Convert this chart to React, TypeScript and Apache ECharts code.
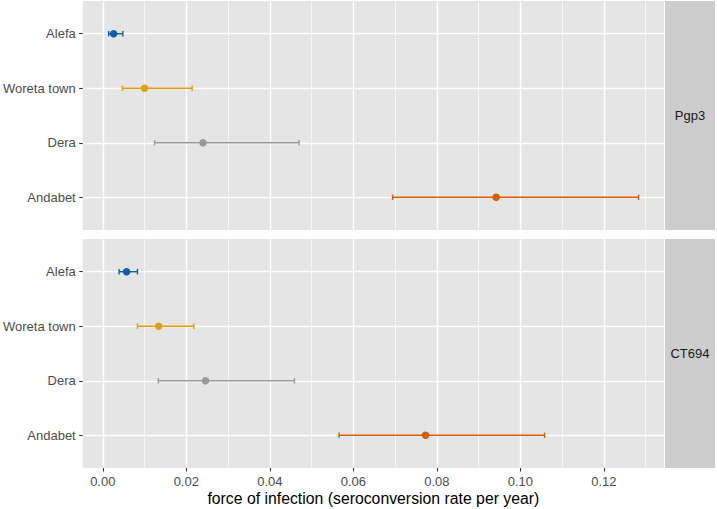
import React, { useEffect, useRef } from "react";
import * as echarts from "echarts";

const sites = ["Alefa", "Woreta town", "Dera", "Andabet"];
const antigens = ["Pgp3", "CT694"];
const pgp3Est = [0.0026, 0.01, 0.024, 0.0942];
const pgp3Lo = [0.0014, 0.0047, 0.0124, 0.0694];
const pgp3Hi = [0.0048, 0.0214, 0.047, 0.1283];
const ct694Est = [0.0057, 0.0134, 0.0246, 0.0773];
const ct694Lo = [0.0039, 0.0083, 0.0133, 0.0566];
const ct694Hi = [0.0083, 0.0218, 0.0459, 0.1058];
const xTitle = "force of infection (seroconversion rate per year)";

const siteColors = ["#0F5DAA", "#E69F00", "#999999", "#D55E00"];

const X_MIN = -0.0048;
const X_MAX = 0.1344;
const FONT = "Liberation Sans, Arial, Helvetica, sans-serif";

export default function App() {
  const ref = useRef<HTMLDivElement>(null);
  useEffect(() => {
    if (!ref.current) return;
    const chart = echarts.init(ref.current, null, { renderer: "svg" });
    const panels = [
      { est: pgp3Est, lo: pgp3Lo, hi: pgp3Hi },
      { est: ct694Est, lo: ct694Lo, hi: ct694Hi },
    ];
    const panelTop = [1, 239];
    const panelH = 229;
    const gridLeft = 80;
    const gridRight = 717 - 664;

    const grids = panelTop.map((t) => ({
      left: gridLeft,
      right: gridRight,
      top: t,
      height: panelH,
      show: true,
      backgroundColor: "#E5E5E5",
      borderWidth: 0,
    }));

    const xAxes = panelTop.map((_, i) => ({
      type: "value",
      gridIndex: i,
      position: "bottom",
      min: X_MIN,
      max: X_MAX,
      splitNumber: 7,
      axisLine: { show: false, onZero: false },
      axisTick: {
        show: i === 1,
        length: 3.5,
        lineStyle: { color: "#333333", width: 1.1 },
      },
      axisLabel: {
        show: i === 1,
        showMinLabel: false,
        showMaxLabel: false,
        color: "#4D4D4D",
        fontSize: 13,
        fontFamily: FONT,
        margin: 6.5,
        formatter: (v: number) => v.toFixed(2),
      },
      splitLine: {
        show: true,
        showMinLine: false,
        showMaxLine: false,
        lineStyle: { color: "#FFFFFF", width: 1.4 },
      },
      minorTick: { show: false, splitNumber: 2 },
      minorSplitLine: { show: true, lineStyle: { color: "#FFFFFF", width: 0.7 } },
      name: i === 1 ? xTitle : "",
      nameLocation: "middle",
      nameGap: 22,
      nameTextStyle: { color: "#000000", fontSize: 15.8, fontFamily: FONT },
    }));

    const yAxes = panelTop.map((_, i) => ({
      type: "value",
      gridIndex: i,
      position: "left",
      inverse: true,
      min: -0.6,
      max: 3.6,
      splitNumber: 4,
      axisLine: { show: false, onZero: false },
      axisTick: { show: true, length: 3.5, lineStyle: { color: "#333333", width: 1.1 } },
      axisLabel: {
        showMinLabel: false,
        showMaxLabel: false,
        color: "#4D4D4D",
        fontSize: 13,
        fontFamily: FONT,
        margin: 7,
        formatter: (v: number) => (Number.isInteger(v) && sites[v] ? sites[v] : ""),
      },
      splitLine: {
        show: true,
        showMinLine: false,
        showMaxLine: false,
        lineStyle: { color: "#FFFFFF", width: 1.4 },
      },
    }));

    const series: any[] = [];
    panels.forEach((p, i) => {
      series.push({
        type: "custom",
        xAxisIndex: i,
        yAxisIndex: i,
        clip: false,
        encode: { x: [0, 1], y: 2 },
        data: sites.map((_, k) => [p.lo[k], p.hi[k], k]),
        renderItem: (params: any, api: any) => {
          const lo = api.value(0);
          const hi = api.value(1);
          const y = api.value(2);
          const a = api.coord([lo, y]);
          const b = api.coord([hi, y]);
          const capH = api.size([0, 0.1])[1] / 2;
          const style = { stroke: siteColors[params.dataIndex], lineWidth: 1.4 };
          return {
            type: "group",
            children: [
              { type: "line", shape: { x1: a[0], y1: a[1], x2: b[0], y2: b[1] }, style },
              { type: "line", shape: { x1: a[0], y1: a[1] - capH, x2: a[0], y2: a[1] + capH }, style },
              { type: "line", shape: { x1: b[0], y1: b[1] - capH, x2: b[0], y2: b[1] + capH }, style },
            ],
          };
        },
        z: 3,
      });
      series.push({
        type: "scatter",
        xAxisIndex: i,
        yAxisIndex: i,
        clip: false,
        symbol: "circle",
        symbolSize: 7.5,
        data: sites.map((_, k) => [p.est[k], k]),
        itemStyle: { color: (d: any) => siteColors[d.dataIndex], opacity: 1 },
        z: 4,
      });
    });

    const graphics: any[] = [];
    panelTop.forEach((t, i) => {
      graphics.push({
        type: "rect",
        shape: { x: 665, y: t, width: 50, height: panelH },
        style: { fill: "#CDCDCD" },
        z: 0,
      });
      graphics.push({
        type: "text",
        x: 690,
        y: t + panelH / 2,
        style: {
          text: antigens[i],
          fill: "#1A1A1A",
          font: `13px ${FONT}`,
          align: "center",
          verticalAlign: "middle",
        },
        z: 1,
      });
    });

    chart.setOption({
      animation: false,
      backgroundColor: "#FFFFFF",
      grid: grids,
      xAxis: xAxes,
      yAxis: yAxes,
      series,
      graphic: graphics,
    });
    return () => chart.dispose();
  }, []);
  return <div ref={ref} style={{ width: 717, height: 509, position: "absolute", left: 0, top: 0 }} />;
}
